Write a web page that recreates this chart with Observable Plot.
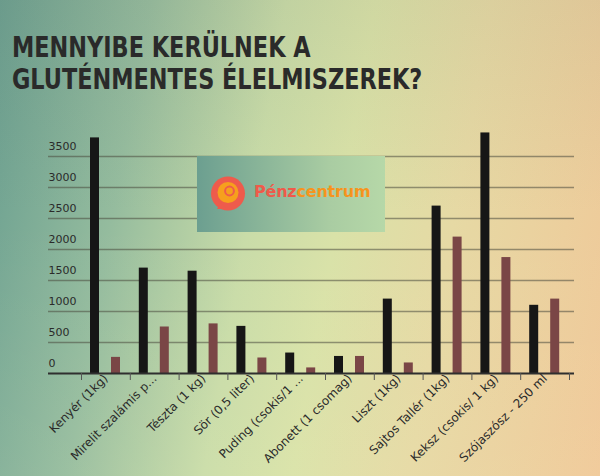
<!DOCTYPE html>
<html>
<head>
<meta charset="utf-8">
<script src="https://cdn.jsdelivr.net/npm/d3@7"></script>
<script src="https://cdn.jsdelivr.net/npm/@observablehq/plot@0.6"></script>
<style>
  html, body { margin: 0; padding: 0; }
  #wrap {
    position: relative; width: 600px; height: 476px; overflow: hidden;
    background: linear-gradient(100deg, #6a9f90 0%, #95bc9e 22%, #c9dca8 42%, #d9e2a8 55%, #e6d9a4 72%, #f0c898 100%);
  }
  #shade {
    position: absolute; left: 0; top: 0; width: 600px; height: 476px;
    background: linear-gradient(to bottom, rgba(120,120,100,0.10) 0%, rgba(120,120,100,0.0) 45%, rgba(255,255,220,0.06) 100%);
  }
  .tline {
    position: absolute; left: 12px; margin: 0; white-space: nowrap;
    font-family: "Liberation Sans Narrow", "DejaVu Sans Condensed", sans-serif;
    font-weight: bold; font-size: 27.5px; line-height: normal; color: #2a2a2a;
    transform: scaleX(0.905); transform-origin: left top;
  }
  #chart { position: absolute; left: 0; top: 112px; }
  #logo {
    position: absolute; left: 197px; top: 156px; width: 188px; height: 76px;
    background: linear-gradient(to right, #6c9f90, #a9cca2 70%, #b6d8a8);
  }
  #logo svg { position: absolute; left: 0; top: 0; }
  #logo .txt {
    position: absolute; left: 57px; top: 26px;
    font-family: "DejaVu Sans", sans-serif; font-weight: bold; font-size: 16px;
    letter-spacing: -0.2px;
  }
</style>
</head>
<body>
<div id="wrap">
  <div id="shade"></div>
  <div class="tline" style="top:30.5px">MENNYIBE KERÜLNEK A</div>
  <div class="tline" style="top:62.5px">GLUTÉNMENTES ÉLELMISZEREK?</div>
  <div id="chart"></div>
  <div id="logo">
    <svg width="60" height="76">
      <circle cx="31" cy="37.5" r="17" fill="#ee5b4c"></circle>
      <circle cx="31" cy="36.5" r="10.5" fill="#f6a01d"></circle>
      <circle cx="32.5" cy="35" r="4.4" fill="none" stroke="#ee5b4c" stroke-width="2"></circle>
      <path d="M24 46 L29 53 L20 53 Z" fill="#ee5b4c"></path>
    </svg>
    <div class="txt"><span style="color:#ef5a4a">Pénz</span><span style="color:#f7941d">centrum</span></div>
  </div>
</div>
<script>
const categories = ["Kenyér (1kg)", "Mirelit szalámis p...", "Tészta (1 kg)", "Sör (0,5 liter)", "Puding (csokis/1 ...", "Abonett (1 csomag)", "Liszt (1kg)", "Sajtos Tallér (1kg)", "Keksz (csokis/ 1 kg)", "Szójaszósz - 250 ml"];
const glutenmentes = [3800, 1700, 1650, 760, 330, 275, 1200, 2700, 3880, 1100];
const hagyomanyos = [260, 750, 800, 250, 90, 275, 170, 2200, 1870, 1200];
const yTicks = [0, 500, 1000, 1500, 2000, 2500, 3000, 3500];

const gfData = categories.map((c, i) => ({cat: c, value: glutenmentes[i]}));
const hData = categories.map((c, i) => ({cat: c, value: hagyomanyos[i]}));

const bw = (569 - 81) / categories.length;

const chart = Plot.plot({
  width: 600,
  height: 364,
  marginLeft: 48,
  marginRight: 26,
  marginTop: 13,
  marginBottom: 103,
  style: {background: "transparent", fontFamily: "DejaVu Sans, sans-serif", color: "#2a2a2a"},
  x: {type: "band", domain: categories, range: [81, 569], padding: 0, round: false, label: null},
  y: {domain: [0, 4000], label: null},
  marks: [
    Plot.ruleY(yTicks.filter(d => d > 0), {stroke: "#4a4a3e", strokeOpacity: 0.55, strokeWidth: 1.6}),
    Plot.text(yTicks, {y: d => d, frameAnchor: "left", textAnchor: "start", dy: -10, fontSize: 11, fill: "#2a2a2a", text: d => String(d)}),
    Plot.barY(gfData, {x: "cat", y: "value", fill: "#161616", insetLeft: 9, insetRight: bw - 18}),
    Plot.barY(hData, {x: "cat", y: "value", fill: "#7a4646", insetLeft: 30, insetRight: bw - 39}),
    Plot.ruleY([0], {stroke: "#2f2f2f", strokeWidth: 2.2}),
    Plot.ruleX(categories, {x: d => d, y1: 0, y2: 0, insetBottom: -7, dx: -bw / 2, stroke: "#555", strokeWidth: 1}),
    Plot.ruleX(categories.slice(-1), {x: d => d, y1: 0, y2: 0, insetBottom: -7, dx: bw / 2, stroke: "#555", strokeWidth: 1}),
    Plot.axisX({tickSize: 0, tickPadding: 3, tickRotate: -45, fontSize: 12, fill: "#2a2a2a"}),
    Plot.axisY({ticks: [], label: null})
  ]
});
document.getElementById("chart").appendChild(chart);
</script>
</body>
</html>
